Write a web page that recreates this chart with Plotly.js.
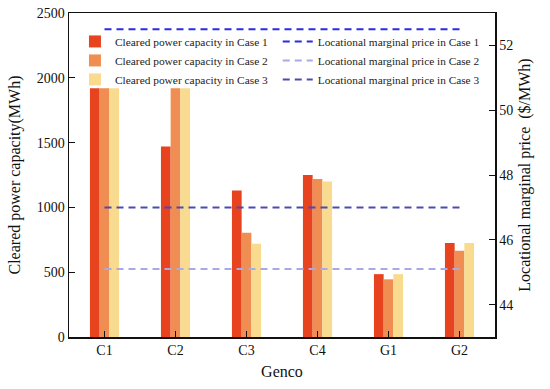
<!DOCTYPE html>
<html><head><meta charset="utf-8">
<script src="https://cdn.plot.ly/plotly-3.0.1.min.js"></script>
<style>html,body{margin:0;padding:0;background:#fff}#chart{width:550px;height:389px}</style>
</head><body><div id="chart"></div>
<script>
const genco = ['C1','C2','C3','C4','G1','G2'];
const clearedCase1 = [1920, 1470, 1130, 1250, 485, 725];
const clearedCase2 = [1920, 1920, 805, 1220, 445, 665];
const clearedCase3 = [1920, 1920, 720, 1200, 485, 725];
const lmpCase1 = [52.5, 52.5, 52.5, 52.5, 52.5, 52.5];
const lmpCase2 = [45.1, 45.1, 45.1, 45.1, 45.1, 45.1];
const lmpCase3 = [47.0, 47.0, 47.0, 47.0, 47.0, 47.0];

const serif = 'Liberation Serif, Times New Roman, serif';
const traces = [
  {type:'bar', x:genco, y:clearedCase1, name:'Cleared power capacity in Case 1', marker:{color:'#E8431F'}, legend:'legend'},
  {type:'bar', x:genco, y:clearedCase2, name:'Cleared power capacity in Case 2', marker:{color:'#F08D52'}, legend:'legend'},
  {type:'bar', x:genco, y:clearedCase3, name:'Cleared power capacity in Case 3', marker:{color:'#F8DB8E'}, legend:'legend'},
  {type:'scatter', mode:'lines', x:genco, y:lmpCase1, yaxis:'y2', name:'Locational marginal price in Case 1', line:{color:'#2B2BE0', width:2, dash:'7px,5px'}, legend:'legend2'},
  {type:'scatter', mode:'lines', x:genco, y:lmpCase2, yaxis:'y2', name:'Locational marginal price in Case 2', line:{color:'#A9A9E6', width:2, dash:'7px,5px'}, legend:'legend2'},
  {type:'scatter', mode:'lines', x:genco, y:lmpCase3, yaxis:'y2', name:'Locational marginal price in Case 3', line:{color:'#4A4AB2', width:2, dash:'7px,5px'}, legend:'legend2'}
];
const layout = {
  width:550, height:389,
  margin:{l:69, r:55, t:13, b:52},
  paper_bgcolor:'#fff', plot_bgcolor:'#fff',
  font:{family:serif, color:'#111', size:14},
  showlegend:true,
  barmode:'group', bargap:0.59, bargroupgap:0,
  xaxis:{
    range:[-0.5,5.5], showline:true, linecolor:'#111', linewidth:1.5, mirror:true,
    ticks:'inside', ticklen:6, tickcolor:'#111', showgrid:false, zeroline:false,
    tickfont:{family:serif, size:14, color:'#111'},
    title:{text:'Genco', font:{family:serif, size:16, color:'#111'}, standoff:8}
  },
  yaxis:{
    range:[0,2500], tickvals:[0,500,1000,1500,2000,2500],
    showline:true, linecolor:'#111', linewidth:1.5,
    ticks:'inside', ticklen:6, tickcolor:'#111', showgrid:false, zeroline:false,
    tickfont:{family:serif, size:14, color:'#111'},
    title:{text:'Cleared power capacity(MWh)', font:{family:serif, size:16, color:'#111'}, standoff:12}
  },
  yaxis2:{
    overlaying:'y', side:'right', range:[43,53], tickvals:[44,46,48,50,52],
    showline:true, linecolor:'#111', linewidth:1.5,
    ticks:'inside', ticklen:6, tickcolor:'#111', showgrid:false, zeroline:false,
    tickfont:{family:serif, size:14, color:'#111'},
    title:{text:'Locational marginal price  ($/MWh)', font:{family:serif, size:16, color:'#111'}, standoff:6}
  },
  legend:{x:0.014, y:0.957, xanchor:'left', yanchor:'top', bgcolor:'rgba(0,0,0,0)',
    font:{family:serif, size:11.4, color:'#222'}, tracegroupgap:0, itemsizing:'constant'},
  legend2:{x:0.49, y:0.957, xanchor:'left', yanchor:'top', bgcolor:'rgba(0,0,0,0)',
    font:{family:serif, size:11.3, color:'#222'}, tracegroupgap:0, itemwidth:30}
};
Plotly.newPlot('chart', traces, layout, {displayModeBar:false, staticPlot:true});
</script></body></html>
